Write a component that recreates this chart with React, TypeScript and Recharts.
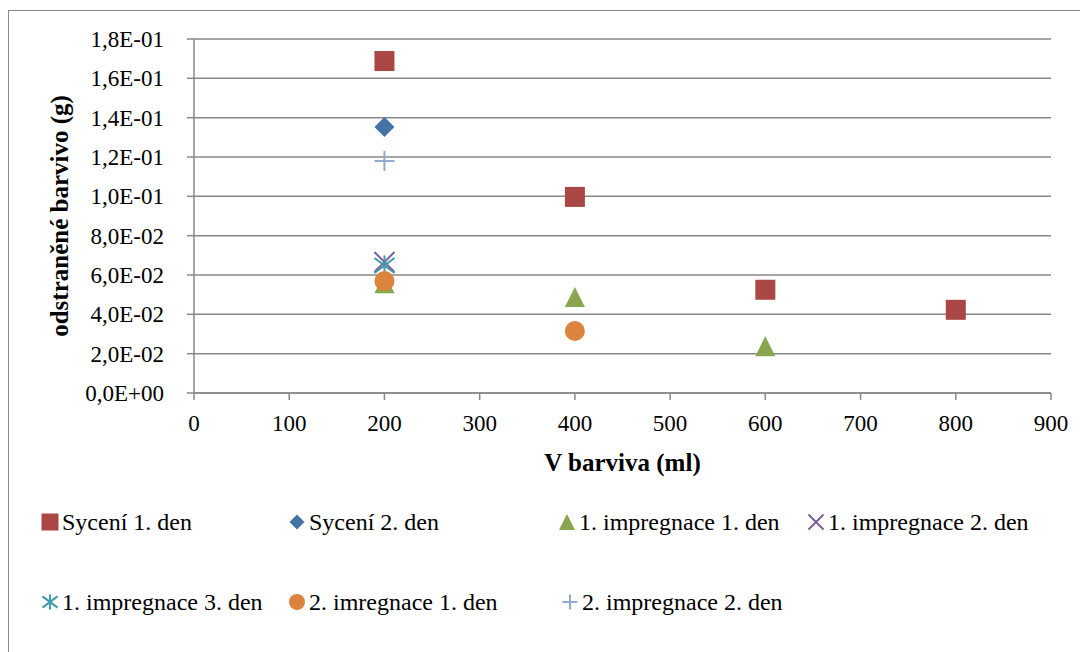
import React from 'react';
import { ScatterChart, Scatter, XAxis, YAxis, CartesianGrid, Legend } from 'recharts';

const xTicks = [0, 100, 200, 300, 400, 500, 600, 700, 800, 900];
const yTicks = [0, 0.02, 0.04, 0.06, 0.08, 0.1, 0.12, 0.14, 0.16, 0.18];

const syceni1 = [
  { x: 200, y: 0.1688 },
  { x: 400, y: 0.0997 },
  { x: 600, y: 0.0525 },
  { x: 800, y: 0.0423 },
];
const syceni2 = [{ x: 200, y: 0.1353 }];
const impr1den1 = [
  { x: 200, y: 0.0558 },
  { x: 400, y: 0.0488 },
  { x: 600, y: 0.0238 },
];
const impr1den2 = [{ x: 200, y: 0.0666 }];
const impr1den3 = [{ x: 200, y: 0.0648 }];
const impr2den1 = [
  { x: 200, y: 0.0569 },
  { x: 400, y: 0.0315 },
];
const impr2den2 = [{ x: 200, y: 0.118 }];

const FONT = "'Liberation Serif', 'DejaVu Serif', 'Times New Roman', serif";

const series = [
  { name: 'Sycení 1. den', data: syceni1, color: '#AA4643', kind: 'square' },
  { name: 'Sycení 2. den', data: syceni2, color: '#4572A7', kind: 'diamond' },
  { name: '1. impregnace 1. den', data: impr1den1, color: '#89A54E', kind: 'triangle' },
  { name: '1. impregnace 2. den', data: impr1den2, color: '#7A5F9A', kind: 'x' },
  { name: '1. impregnace 3. den', data: impr1den3, color: '#4198AF', kind: 'asterisk' },
  { name: '2. imregnace 1. den', data: impr2den1, color: '#DB843D', kind: 'circle' },
  { name: '2. impregnace 2. den', data: impr2den2, color: '#93A9CF', kind: 'plus' },
];

const legendSlots = [
  { left: 42, top: 24 },
  { left: 289, top: 24 },
  { left: 559, top: 24 },
  { left: 808, top: 24 },
  { left: 42, top: 104 },
  { left: 289, top: 104 },
  { left: 562, top: 104 },
];

function sci(v: number): string {
  if (Math.abs(v) < 1e-12) return '0,0E+00';
  let e = Math.floor(Math.log10(v) + 1e-9);
  let ms = (v / Math.pow(10, e)).toFixed(1);
  if (ms === '10.0') {
    e += 1;
    ms = '1.0';
  }
  return ms.replace('.', ',') + 'E' + (e < 0 ? '-' : '+') + String(Math.abs(e)).padStart(2, '0');
}

function Marker({ kind, cx, cy, size, color }: any) {
  const h = size / 2;
  switch (kind) {
    case 'square':
      return <rect x={cx - h} y={cy - h} width={size} height={size} fill={color} />;
    case 'diamond':
      return <polygon points={`${cx},${cy - h} ${cx + h},${cy} ${cx},${cy + h} ${cx - h},${cy}`} fill={color} />;
    case 'triangle':
      return <polygon points={`${cx},${cy - h} ${cx + h},${cy + h} ${cx - h},${cy + h}`} fill={color} />;
    case 'circle':
      return <circle cx={cx} cy={cy} r={h} fill={color} />;
    case 'x':
      return (
        <path
          d={`M${cx - h},${cy - h}L${cx + h},${cy + h}M${cx + h},${cy - h}L${cx - h},${cy + h}`}
          stroke={color}
          strokeWidth={2}
          fill="none"
        />
      );
    case 'asterisk': {
      const v = h * 0.75;
      return (
        <path
          d={`M${cx - h},${cy - v}L${cx + h},${cy + v}M${cx + h},${cy - v}L${cx - h},${cy + v}M${cx},${cy - h}L${cx},${cy + h}`}
          stroke={color}
          strokeWidth={2}
          fill="none"
        />
      );
    }
    case 'plus':
      return (
        <path
          d={`M${cx - h},${cy}L${cx + h},${cy}M${cx},${cy - h}L${cx},${cy + h}`}
          stroke={color}
          strokeWidth={2}
          fill="none"
        />
      );
    default:
      return null;
  }
}

const legendSizes: Record<string, number> = {
  square: 17,
  diamond: 15,
  triangle: 16,
  x: 15,
  asterisk: 15,
  circle: 16,
  plus: 15,
};

function LegendContent() {
  return (
    <div style={{ position: 'relative', width: 1080, height: 130 }}>
      {series.map((s, i) => {
        const slot = legendSlots[i];
        return (
          <div
            key={s.name}
            style={{
              position: 'absolute',
              left: slot.left - 10,
              top: slot.top - 15,
              height: 30,
              display: 'flex',
              alignItems: 'center',
              whiteSpace: 'nowrap',
              fontFamily: FONT,
              fontSize: 24,
              color: '#000',
            }}
          >
            <svg width={20} height={20} style={{ display: 'block' }}>
              <Marker kind={s.kind} cx={10} cy={10} size={legendSizes[s.kind]} color={s.color} />
            </svg>
            <span style={{ marginLeft: 2 }}>{s.name}</span>
          </div>
        );
      })}
    </div>
  );
}

function YLabel(props: any) {
  const vb = props.viewBox || { x: 0, y: 31, width: 186, height: 354 };
  const cx = vb.x + 51;
  const cy = vb.y + vb.height / 2;
  return (
    <text
      x={cx}
      y={cy}
      transform={`rotate(-90, ${cx}, ${cy})`}
      textAnchor="middle"
      dominantBaseline="central"
      style={{ fontFamily: FONT, fontSize: 25, fontWeight: 'bold' }}
      fill="#000"
    >
      odstraněné barvivo (g)
    </text>
  );
}

export default function App() {
  return (
    <div style={{ position: 'relative', width: 1080, height: 644, background: '#fff', fontFamily: FONT }}>
      <div
        style={{
          position: 'absolute',
          left: 0,
          top: 2,
          width: 1080,
          height: 642,
          borderLeft: '1.5px solid #888',
          borderTop: '1.5px solid #888',
          boxSizing: 'border-box',
        }}
      />
      <ScatterChart
        width={1080}
        height={644}
        margin={{ top: 31, right: 37, left: 0, bottom: 199 }}
        style={{ fontFamily: FONT }}
      >
        <CartesianGrid vertical={false} stroke="#888" strokeWidth={1.5} />
        <XAxis
          type="number"
          dataKey="x"
          domain={[0, 900]}
          ticks={xTicks}
          height={60}
          tickSize={7}
          tickMargin={15}
          stroke="#888"
          strokeWidth={1.5}
          tick={{ fill: '#000', fontSize: 23, style: { fontFamily: FONT } }}
          tickLine={{ stroke: '#888', strokeWidth: 1.5 }}
          label={{
            value: 'V barviva (ml)',
            position: 'bottom',
            offset: 0,
            fill: '#000',
            fontSize: 25,
            fontWeight: 'bold',
            style: { fontFamily: FONT },
          }}
        />
        <YAxis
          type="number"
          dataKey="y"
          domain={[0, 0.18]}
          ticks={yTicks}
          interval={0}
          width={186}
          tickSize={7}
          tickMargin={23}
          stroke="#888"
          strokeWidth={1.5}
          tickFormatter={sci}
          tick={{ fill: '#000', fontSize: 23, style: { fontFamily: FONT } }}
          tickLine={{ stroke: '#888', strokeWidth: 1.5 }}
          label={<YLabel />}
        />
        <Legend
          layout="horizontal"
          verticalAlign="middle"
          align="center"
          width={1080}
          wrapperStyle={{ position: 'absolute', left: 0, top: 490, width: 1080 }}
          content={() => <LegendContent />}
        />
        {series.map((s) => (
          <Scatter
            key={s.name}
            name={s.name}
            data={s.data}
            fill={s.color}
            isAnimationActive={false}
            shape={(p: any) => <Marker kind={s.kind} cx={p.cx} cy={p.cy} size={20} color={s.color} />}
          />
        ))}
      </ScatterChart>
    </div>
  );
}
